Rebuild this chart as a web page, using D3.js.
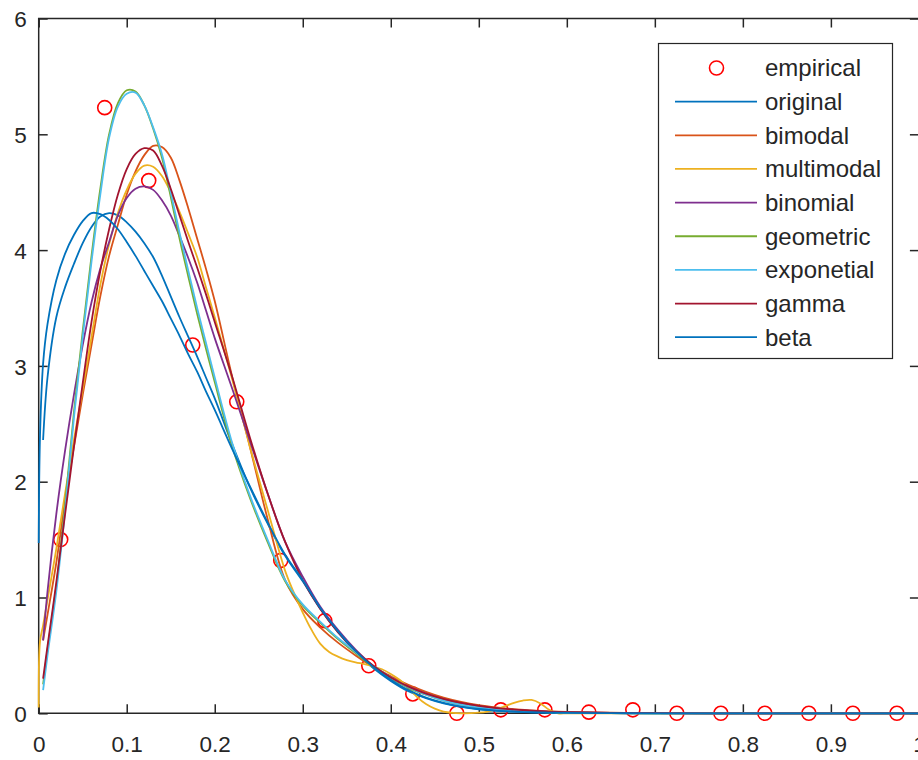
<!DOCTYPE html>
<html>
<head>
<meta charset="utf-8">
<script src="https://cdn.jsdelivr.net/npm/d3@7"></script>
<style>
  html, body { margin: 0; padding: 0; background: #fff; }
  svg { display: block; }
  text { font-family: "Liberation Sans", Arial, Helvetica, sans-serif; fill: #262626; }
</style>
</head>
<body>
<svg id="chart" width="918" height="760"></svg>
<script>
// ---------------- data ----------------
const seriesNames = ["original", "bimodal", "multimodal", "binomial", "geometric", "exponetial", "gamma", "beta"];
const seriesColors = ["#0072BD", "#D95319", "#EDB120", "#7E2F8E", "#77AC30", "#4DBEEE", "#A2142F", "#0072BD"];

const xTickValues = [0, 0.1, 0.2, 0.3, 0.4, 0.5, 0.6, 0.7, 0.8, 0.9, 1];
const xTickLabels = ["0", "0.1", "0.2", "0.3", "0.4", "0.5", "0.6", "0.7", "0.8", "0.9", "1"];
const yTickValues = [0, 1, 2, 3, 4, 5, 6];
const yTickLabels = ["0", "1", "2", "3", "4", "5", "6"];

// empirical histogram (bin centres)
const xEmpirical = [0.025, 0.075, 0.125, 0.175, 0.225, 0.275, 0.325, 0.375, 0.425, 0.475,
                    0.525, 0.575, 0.625, 0.675, 0.725, 0.775, 0.825, 0.875, 0.925, 0.975];
const yEmpirical = [1.50, 5.23, 4.60, 3.18, 2.69, 1.32, 0.80, 0.41, 0.167, 0.0,
                    0.03, 0.03, 0.01, 0.03, 0.0, 0.0, 0.0, 0.0, 0.0, 0.0];

// common x grid for most fitted curves
const xCommon = [0.005, 0.01, 0.02, 0.03, 0.04, 0.05, 0.06, 0.07, 0.08, 0.09, 0.10, 0.11, 0.12, 0.13,
                 0.14, 0.15, 0.16, 0.17, 0.18, 0.19, 0.20, 0.22, 0.24, 0.26, 0.28, 0.30, 0.32, 0.34,
                 0.36, 0.38, 0.40, 0.42, 0.44, 0.46, 0.48, 0.50, 0.52, 0.54, 0.56, 0.58, 0.60,
                 0.65, 0.70, 0.80, 0.90, 1.00];

const yOriginal = [2.36, 2.90, 3.42, 3.68, 3.88, 4.06, 4.20, 4.29, 4.32, 4.30, 4.24, 4.16, 4.06, 3.94,
                   3.78, 3.60, 3.42, 3.25, 3.08, 2.90, 2.72, 2.32, 1.95, 1.64, 1.36, 1.14, 0.90, 0.70,
                   0.53, 0.39, 0.28, 0.19, 0.13, 0.085, 0.055, 0.035, 0.022, 0.014, 0.009, 0.005, 0.003,
                   0.001, 0, 0, 0, 0];

const yBimodal = [0.63, 0.85, 1.30, 1.84, 2.30, 2.75, 3.18, 3.60, 3.95, 4.22, 4.48, 4.68, 4.82, 4.90,
                  4.89, 4.80, 4.60, 4.36, 4.10, 3.84, 3.56, 2.90, 2.30, 1.68, 1.15, 0.90, 0.74, 0.61,
                  0.50, 0.40, 0.32, 0.245, 0.185, 0.135, 0.098, 0.07, 0.05, 0.035, 0.025, 0.017, 0.012,
                  0.005, 0.002, 0, 0, 0];

const yBinomial = [0.63, 1.05, 1.72, 2.27, 2.75, 3.18, 3.55, 3.84, 4.07, 4.30, 4.45, 4.53, 4.55, 4.52,
                   4.43, 4.30, 4.12, 3.93, 3.72, 3.48, 3.24, 2.80, 2.35, 1.90, 1.48, 1.18, 0.92, 0.72,
                   0.55, 0.41, 0.31, 0.23, 0.17, 0.12, 0.085, 0.06, 0.042, 0.029, 0.02, 0.013, 0.009,
                   0.003, 0.001, 0, 0, 0];

const yGeometric = [0.25, 0.55, 1.10, 1.80, 2.60, 3.30, 3.95, 4.53, 5.00, 5.27, 5.38, 5.37, 5.25, 5.05,
                    4.80, 4.46, 4.10, 3.77, 3.45, 3.15, 2.86, 2.30, 1.86, 1.48, 1.14, 0.93, 0.78, 0.64,
                    0.52, 0.40, 0.30, 0.22, 0.16, 0.11, 0.075, 0.05, 0.033, 0.022, 0.014, 0.009, 0.006,
                    0.002, 0, 0, 0, 0];

const yExponetial = [0.20, 0.50, 1.05, 1.75, 2.55, 3.25, 3.90, 4.48, 4.97, 5.24, 5.35, 5.36, 5.25, 5.06,
                     4.83, 4.50, 4.15, 3.82, 3.50, 3.20, 2.90, 2.33, 1.88, 1.50, 1.15, 0.94, 0.79, 0.65,
                     0.53, 0.41, 0.31, 0.225, 0.16, 0.11, 0.075, 0.05, 0.033, 0.022, 0.014, 0.009, 0.006,
                     0.002, 0, 0, 0, 0];

const yGamma = [0.30, 0.58, 1.13, 1.72, 2.30, 2.85, 3.38, 3.82, 4.18, 4.48, 4.70, 4.83, 4.88, 4.86,
                4.73, 4.53, 4.30, 4.07, 3.85, 3.62, 3.38, 2.90, 2.38, 1.90, 1.48, 1.15, 0.90, 0.70,
                0.54, 0.41, 0.31, 0.23, 0.17, 0.125, 0.09, 0.065, 0.045, 0.032, 0.022, 0.015, 0.01,
                0.004, 0.001, 0, 0, 0];

// multimodal curve has its own (finer) grid
const xMultimodal = [0, 0.0015, 0.005, 0.01, 0.02, 0.03, 0.04, 0.05, 0.06, 0.07, 0.08, 0.09, 0.10, 0.11,
                     0.12, 0.13, 0.14, 0.15, 0.16, 0.17, 0.18, 0.19, 0.20, 0.22, 0.24, 0.26, 0.28, 0.29,
                     0.30, 0.31, 0.32, 0.33, 0.34, 0.35, 0.36, 0.37, 0.38, 0.39, 0.40, 0.41, 0.42, 0.43,
                     0.44, 0.45, 0.46, 0.48, 0.50, 0.51, 0.52, 0.53, 0.54, 0.55, 0.56, 0.57, 0.58, 0.59,
                     0.60, 0.65, 0.70, 0.80, 0.90, 1.00];
const yMultimodal = [0.05, 0.62, 0.76, 0.98, 1.42, 1.90, 2.36, 2.80, 3.25, 3.70, 4.05, 4.32, 4.52, 4.66,
                     4.73, 4.72, 4.64, 4.50, 4.33, 4.14, 3.94, 3.68, 3.42, 2.88, 2.30, 1.76, 1.23, 1.04,
                     0.87, 0.72, 0.60, 0.53, 0.49, 0.46, 0.44, 0.425, 0.405, 0.38, 0.34, 0.29, 0.22, 0.14,
                     0.08, 0.04, 0.015, 0.0, 0.005, 0.015, 0.035, 0.062, 0.09, 0.11, 0.115, 0.085, 0.03, 0.0,
                     0, 0, 0, 0, 0, 0];

// beta curve starts at x = 0
const xBeta = [0, 0.0015, 0.005, 0.01, 0.02, 0.03, 0.04, 0.05, 0.06, 0.07, 0.08, 0.09, 0.10, 0.11, 0.12,
               0.13, 0.14, 0.15, 0.16, 0.17, 0.18, 0.19, 0.20, 0.22, 0.24, 0.26, 0.28, 0.30, 0.32, 0.34,
               0.36, 0.38, 0.40, 0.42, 0.44, 0.46, 0.48, 0.50, 0.52, 0.54, 0.56, 0.58, 0.60, 0.65, 0.70,
               0.80, 0.90, 1.00];
const yBeta = [1.47, 2.40, 3.02, 3.36, 3.74, 3.97, 4.13, 4.25, 4.32, 4.31, 4.26, 4.18, 4.07, 3.95, 3.82,
               3.69, 3.56, 3.41, 3.26, 3.10, 2.95, 2.78, 2.62, 2.28, 1.96, 1.65, 1.37, 1.15, 0.91, 0.71,
               0.54, 0.40, 0.29, 0.20, 0.135, 0.09, 0.058, 0.037, 0.023, 0.015, 0.009, 0.006, 0.003, 0.001, 0,
               0, 0, 0];

// ---------------- drawing ----------------
const svg = d3.select("#chart");
const axisColor = "#262626";

const x = d3.scaleLinear().domain([0, 1]).range([38.7, 918.9]);
const y = d3.scaleLinear().domain([0, 6]).range([713.3, 18.5]);

const axesG = svg.append("g");

function styleAxis(g) {
  g.select(".domain").remove();
  g.selectAll(".tick line").attr("stroke", axisColor).attr("stroke-width", 1.5);
}

// bottom
const gb = axesG.append("g").attr("transform", `translate(0,${y(0)})`)
  .call(d3.axisBottom(x).tickValues(xTickValues).tickFormat((d, i) => xTickLabels[i])
        .tickSizeInner(-9).tickSizeOuter(0));
styleAxis(gb);
gb.selectAll(".tick text").attr("y", 39).attr("dy", null)
  .style("font-size", "22.5px").attr("fill", axisColor);

// top
const gt = axesG.append("g").attr("transform", `translate(0,${y(6)})`)
  .call(d3.axisTop(x).tickValues(xTickValues).tickFormat("").tickSizeInner(-9).tickSizeOuter(0));
styleAxis(gt);

// left
const gl = axesG.append("g").attr("transform", `translate(${x(0)},0)`)
  .call(d3.axisLeft(y).tickValues(yTickValues).tickFormat((d, i) => yTickLabels[i])
        .tickSizeInner(-9).tickSizeOuter(0));
styleAxis(gl);
gl.selectAll(".tick text").attr("x", -12).attr("dy", "0.36em")
  .style("font-size", "22.5px").attr("fill", axisColor);

// right
const gr = axesG.append("g").attr("transform", `translate(${x(1)},0)`)
  .call(d3.axisRight(y).tickValues(yTickValues).tickFormat("").tickSizeInner(-9).tickSizeOuter(0));
styleAxis(gr);

// box
axesG.append("path")
  .attr("d", `M${x(0)},${y(6)}H${x(1)}V${y(0)}H${x(0)}Z`)
  .attr("fill", "none").attr("stroke", axisColor).attr("stroke-width", 1.5);

// empirical circles
const dataG = svg.append("g");
dataG.selectAll("circle.emp").data(xEmpirical.map((d, i) => [d, yEmpirical[i]]))
  .enter().append("circle").attr("class", "emp")
  .attr("cx", d => x(d[0])).attr("cy", d => y(d[1])).attr("r", 7)
  .attr("fill", "none").attr("stroke", "#FF0000").attr("stroke-width", 1.6);

const zipPts = (xs, ys) => xs.map((d, i) => [d, ys[i]]);
const curves = [
  zipPts(xCommon, yOriginal),
  zipPts(xCommon, yBimodal),
  zipPts(xMultimodal, yMultimodal),
  zipPts(xCommon, yBinomial),
  zipPts(xCommon, yGeometric),
  zipPts(xCommon, yExponetial),
  zipPts(xCommon, yGamma),
  zipPts(xBeta, yBeta)
];

const line = d3.line().x(d => x(d[0])).y(d => Math.min(y(d[1]), y(0) + 0.5))
  .curve(d3.curveCatmullRom.alpha(0.5));
curves.forEach((pts, i) => {
  dataG.append("path").attr("d", line(pts))
    .attr("fill", "none").attr("stroke", seriesColors[i]).attr("stroke-width", 1.8)
    .attr("stroke-linejoin", "round");
});

// legend
const legG = svg.append("g");
legG.append("rect").attr("x", 658.5).attr("y", 43.5).attr("width", 234).attr("height", 315)
  .attr("fill", "#fff").attr("stroke", axisColor).attr("stroke-width", 1.2);
const legNames = ["empirical"].concat(seriesNames);
legNames.forEach((name, i) => {
  const cy = 68 + i * 33.65;
  if (i === 0) {
    legG.append("circle").attr("cx", 716.5).attr("cy", cy).attr("r", 7)
      .attr("fill", "none").attr("stroke", "#FF0000").attr("stroke-width", 1.6);
  } else {
    legG.append("line").attr("x1", 675).attr("x2", 757).attr("y1", cy).attr("y2", cy)
      .attr("stroke", seriesColors[i - 1]).attr("stroke-width", 1.8);
  }
  legG.append("text").attr("x", 765).attr("y", cy).attr("dy", "0.35em")
    .style("font-size", "24px").attr("fill", "#000").text(name);
});
</script>
</body>
</html>
